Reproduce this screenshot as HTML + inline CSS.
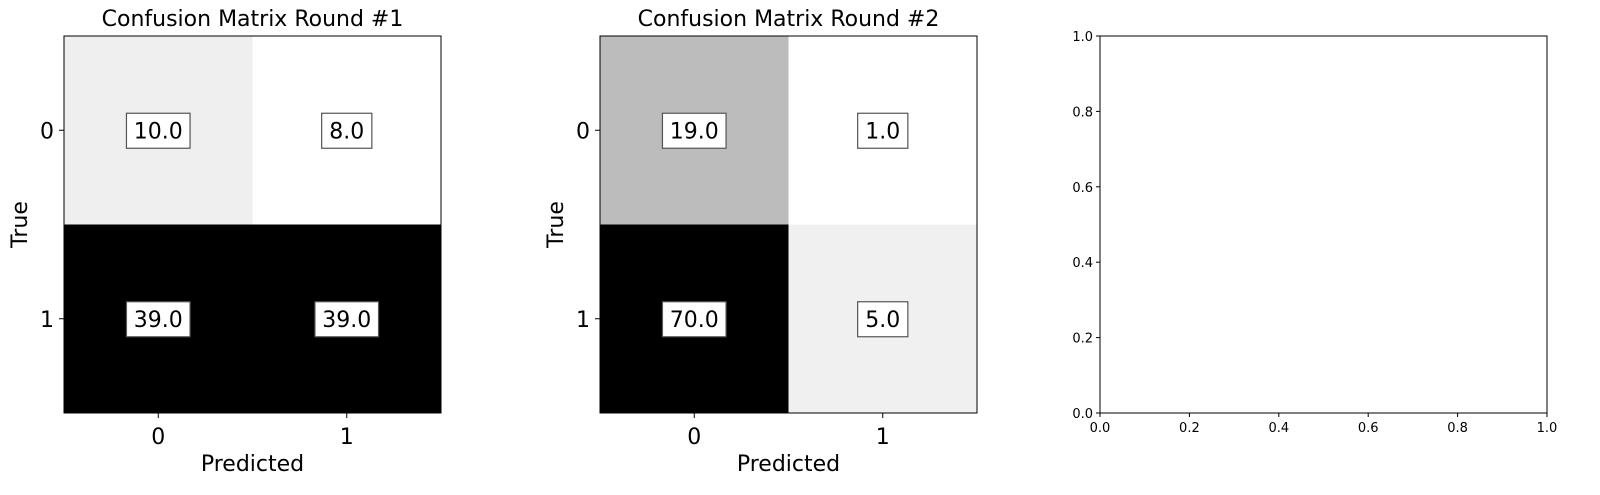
<!DOCTYPE html>
<html><head><meta charset="utf-8"><style>
html,body{margin:0;padding:0;background:#fff;}
svg{display:block;font-family:"DejaVu Sans","Liberation Sans",sans-serif;}
</style></head><body>
<svg id="fig" width="1600" height="495" viewBox="0 0 1600 495" xmlns="http://www.w3.org/2000/svg"></svg>
<script>
const classLabels = ["0","1"];
const round1Values = [[10,8],[39,39]];
const round2Values = [[19,1],[70,5]];
const panelTitles = ["Confusion Matrix Round #1","Confusion Matrix Round #2"];
const emptyTicks = [0,0.2,0.4,0.6,0.8,1.0];
const emptyTickLabels = ["0.0","0.2","0.4","0.6","0.8","1.0"];

const NS="http://www.w3.org/2000/svg";
const svg=document.getElementById('fig');
function mk(tag,attrs,parent){const e=document.createElementNS(NS,tag);for(const k in attrs)e.setAttribute(k,attrs[k]);(parent||svg).appendChild(e);return e;}

function drawMatrix(x0,y0,size,vals,title,idx){
  const g=mk('g',{});
  
  
  const n=vals.length, cell=size/n;
  const flat=vals.flat(), mn=Math.min(...flat), mx=Math.max(...flat);
  const xs=i=>x0+cell*(i+0.5), ys=i=>y0+cell*(i+0.5);
  for(let r=0;r<n;r++)for(let c=0;c<n;c++){
    const v=vals[r][c];
    const t=mx===mn?0:(v-mn)/(mx-mn);
    const gray=Math.round(255*(1-t));
    const rc=mk('rect',{x:xs(c)-cell/2,y:ys(r)-cell/2,width:cell+0.5,height:cell+0.5,fill:`rgb(${gray},${gray},${gray})`},g);
    
    
    const label=v.toFixed(1);
    const w=label.length*13.4+10;
    const box=mk('rect',{x:xs(c)-w/2,y:ys(r)-17,width:w,height:35,fill:'#fff',stroke:'#555','stroke-width':1.2},g);
    
    
    const tx=mk('text',{x:xs(c),y:ys(r)+8,'font-size':22,'text-anchor':'middle',fill:'#000'},g);
    tx.textContent=label;
    
    
  }
  const fr=mk('rect',{x:x0,y:y0,width:size,height:size,fill:'none',stroke:'#000','stroke-width':1},g);
  
  
  classLabels.forEach((lab,i)=>{
    mk('line',{x1:xs(i),x2:xs(i),y1:y0+size,y2:y0+size+5,stroke:'#000'},g);
    const t=mk('text',{x:xs(i),y:y0+size+31,'font-size':22,'text-anchor':'middle'},g);
    t.textContent=lab;
    
    
    mk('line',{x1:x0-5,x2:x0,y1:ys(i),y2:ys(i),stroke:'#000'},g);
    const t2=mk('text',{x:x0-10,y:ys(i)+8,'font-size':22,'text-anchor':'end'},g);
    t2.textContent=lab;
    
    
  });
  const tt=mk('text',{x:x0+size/2,y:y0-10,'font-size':22,'text-anchor':'middle'},g);
  tt.textContent=title;
  
  
  const xl=mk('text',{x:x0+size/2,y:y0+size+58,'font-size':22,'text-anchor':'middle'},g);
  xl.textContent='Predicted';
  
  
  const yl=mk('text',{x:0,y:0,'font-size':22,'text-anchor':'middle',transform:`translate(${x0-37},${y0+size/2}) rotate(-90)`},g);
  yl.textContent='True';
  
  
}
drawMatrix(64,36,377,round1Values,panelTitles[0],0);
drawMatrix(600,36,377,round2Values,panelTitles[1],1);

// empty axes
(function(){
  const x0=1100,y0=36,w=447,h=377;
  const g=mk('g',{});
  
  
  const sx=v=>x0+v*w, sy=v=>y0+h-v*h;
  const fr=mk('rect',{x:x0,y:y0,width:w,height:h,fill:'none',stroke:'#000','stroke-width':1},g);
  
  
  emptyTicks.forEach((v,i)=>{
    mk('line',{x1:sx(v),x2:sx(v),y1:y0+h,y2:y0+h+4,stroke:'#000'},g);
    const t=mk('text',{x:sx(v),y:y0+h+19,'font-size':13,'text-anchor':'middle'},g);
    t.textContent=emptyTickLabels[i];
    
    
    mk('line',{x1:x0-4,x2:x0,y1:sy(v),y2:sy(v),stroke:'#000'},g);
    const t2=mk('text',{x:x0-7,y:sy(v)+5,'font-size':13,'text-anchor':'end'},g);
    t2.textContent=emptyTickLabels[i];
    
    
  });
})();
</script>
</body></html>
